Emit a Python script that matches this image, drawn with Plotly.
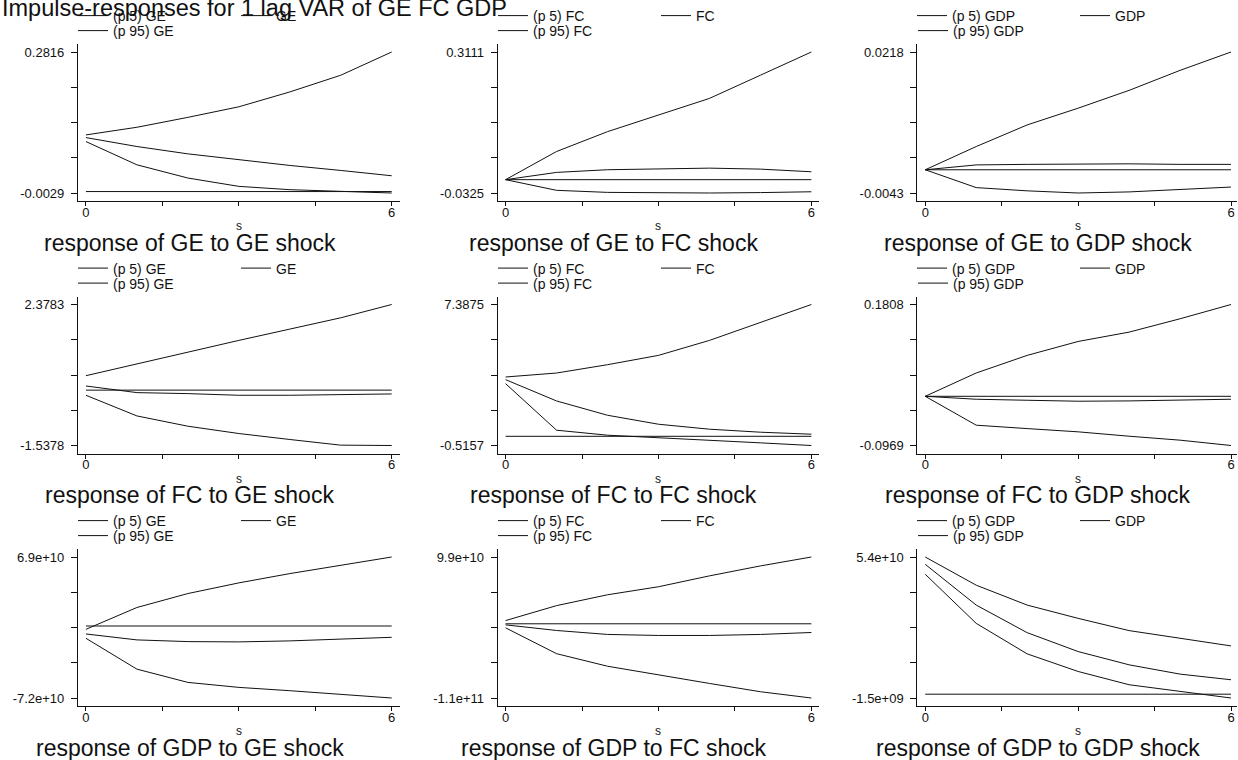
import numpy as np
import plotly.graph_objects as go

# ---------------- data ----------------
steps = [0, 1, 2, 3, 4, 5, 6]
variables = ["GE", "FC", "GDP"]

# response of GE
ge_to_ge_p5 = [0.1009, 0.0540, 0.0273, 0.0105, 0.0038, 0.0005, -0.0029]
ge_to_ge_irf = [0.1089, 0.0909, 0.0761, 0.0641, 0.0527, 0.0426, 0.0319]
ge_to_ge_p95 = [0.1143, 0.1297, 0.1497, 0.1710, 0.2010, 0.2347, 0.2816]

ge_to_fc_p5 = [0.0, -0.0260, -0.0310, -0.0325, -0.0325, -0.0315, -0.0295]
ge_to_fc_irf = [0.0, 0.0177, 0.0242, 0.0266, 0.0281, 0.0257, 0.0192]
ge_to_fc_p95 = [0.0, 0.0686, 0.1170, 0.1575, 0.1980, 0.2545, 0.3111]

ge_to_gdp_p5 = [0.0, -0.0033, -0.0039, -0.0043, -0.0041, -0.0036, -0.0032]
ge_to_gdp_irf = [0.0, 0.0009, 0.0010, 0.0011, 0.0011, 0.0010, 0.0010]
ge_to_gdp_p95 = [0.0, 0.0043, 0.0083, 0.0114, 0.0147, 0.0184, 0.0218]

# response of FC
fc_to_ge_p5 = [-0.143, -0.716, -1.002, -1.205, -1.371, -1.528, -1.5378]
fc_to_ge_irf = [0.115, -0.069, -0.097, -0.143, -0.143, -0.134, -0.106]
fc_to_ge_p95 = [0.401, 0.734, 1.048, 1.381, 1.695, 2.009, 2.3783]

fc_to_fc_p5 = [2.951, 0.342, 0.062, -0.069, -0.218, -0.367, -0.5157]
fc_to_fc_irf = [3.175, 1.982, 1.180, 0.677, 0.398, 0.230, 0.118]
fc_to_fc_p95 = [3.324, 3.547, 4.013, 4.535, 5.374, 6.399, 7.3875]

fc_to_gdp_p5 = [0.0, -0.0569, -0.0636, -0.0700, -0.0786, -0.0864, -0.0969]
fc_to_gdp_irf = [0.0, -0.0058, -0.0078, -0.0097, -0.0091, -0.0071, -0.0058]
fc_to_gdp_p95 = [0.0, 0.0459, 0.0806, 0.1080, 0.1264, 0.1527, 0.1808]

# response of GDP
gdp_to_ge_p5 = [-1.229e10, -4.314e10, -5.64e10, -6.138e10, -6.47e10, -6.868e10, -7.2e10]
gdp_to_ge_irf = [-0.797e10, -1.39e10, -1.56e10, -1.59e10, -1.49e10, -1.33e10, -1.13e10]
gdp_to_ge_p95 = [-0.333e10, 1.85e10, 3.245e10, 4.31e10, 5.24e10, 6.07e10, 6.9e10]

gdp_to_fc_p5 = [-0.60e10, -4.43e10, -6.29e10, -7.61e10, -8.84e10, -10.07e10, -11.0e10]
gdp_to_fc_irf = [-0.157e10, -0.99e10, -1.58e10, -1.73e10, -1.73e10, -1.58e10, -1.29e10]
gdp_to_fc_p95 = [0.479e10, 2.69e10, 4.30e10, 5.49e10, 7.10e10, 8.58e10, 9.9e10]

gdp_to_gdp_p5 = [4.721e10, 2.788e10, 1.587e10, 0.894e10, 0.372e10, 0.111e10, -0.15e10]
gdp_to_gdp_irf = [5.111e10, 3.507e10, 2.422e10, 1.678e10, 1.156e10, 0.790e10, 0.568e10]
gdp_to_gdp_p95 = [5.4e10, 4.29e10, 3.507e10, 2.985e10, 2.503e10, 2.202e10, 1.900e10]

# y-axis end labels (rows = response, cols = impulse)
ymax_labels = [["0.2816", "0.3111", "0.0218"],
               ["2.3783", "7.3875", "0.1808"],
               ["6.9e+10", "9.9e+10", "5.4e+10"]]
ymin_labels = [["-0.0029", "-0.0325", "-0.0043"],
               ["-1.5378", "-0.5157", "-0.0969"],
               ["-7.2e+10", "-1.1e+11", "-1.5e+09"]]

title_text = "Impulse-responses for 1 lag VAR of GE FC GDP"

series = [
    [(ge_to_ge_p5, ge_to_ge_irf, ge_to_ge_p95),
     (ge_to_fc_p5, ge_to_fc_irf, ge_to_fc_p95),
     (ge_to_gdp_p5, ge_to_gdp_irf, ge_to_gdp_p95)],
    [(fc_to_ge_p5, fc_to_ge_irf, fc_to_ge_p95),
     (fc_to_fc_p5, fc_to_fc_irf, fc_to_fc_p95),
     (fc_to_gdp_p5, fc_to_gdp_irf, fc_to_gdp_p95)],
    [(gdp_to_ge_p5, gdp_to_ge_irf, gdp_to_ge_p95),
     (gdp_to_fc_p5, gdp_to_fc_irf, gdp_to_fc_p95),
     (gdp_to_gdp_p5, gdp_to_gdp_irf, gdp_to_gdp_p95)],
]

# ---------------- layout constants ----------------
W, H = 1238, 760
FONT = "Arial, 'Liberation Sans', Helvetica, sans-serif"
INK = "#111111"
COL_STEP = 420
ROW_STEP = 252.5
PLOT_LEFT0 = 78
PLOT_W = 322
PLOT_TOP0 = 44
PLOT_H = 157
PAD = 8
SUB_DX = [112, 116, 121]

fig = go.Figure()
shapes = []
annotations = [dict(text=title_text, x=0.0, y=1 - 8 / H, xref="paper", yref="paper",
                    xanchor="left", yanchor="middle", showarrow=False,
                    font=dict(family=FONT, size=23.5, color=INK))]
layout_axes = {}
legends = {}

for r in range(3):
    for c in range(3):
        k = r * 3 + c
        suf = "" if k == 0 else str(k + 1)
        left = PLOT_LEFT0 + COL_STEP * c
        right = min(left + PLOT_W, W)
        top = PLOT_TOP0 + ROW_STEP * r
        bottom = top + PLOT_H
        ppu = (PLOT_W - 2 * PAD) / (steps[-1] - steps[0])
        xr = [steps[0] - PAD / ppu, steps[-1] + (right - left - PLOT_W + PAD) / ppu]

        ymax = float(ymax_labels[r][c])
        ymin = float(ymin_labels[r][c])
        ypad = PAD / (PLOT_H - 2 * PAD) * (ymax - ymin)

        layout_axes["xaxis" + suf] = dict(
            domain=[left / W, right / W], range=xr, anchor="y" + suf,
            showline=True, linecolor=INK, linewidth=1, mirror=False,
            ticks="outside", ticklen=4, tickcolor=INK, tickwidth=1,
            tickvals=list(np.linspace(steps[0], steps[-1], 5)),
            ticktext=[str(steps[0]), "", "", "", str(steps[-1])],
            ticklabelstandoff=-5,
            showgrid=False, zeroline=False, fixedrange=True,
            tickfont=dict(family=FONT, size=13, color=INK))
        layout_axes["yaxis" + suf] = dict(
            domain=[1 - bottom / H, 1 - top / H], range=[ymin - ypad, ymax + ypad],
            anchor="x" + suf,
            showline=True, linecolor=INK, linewidth=1, mirror=False,
            ticks="outside", ticklen=6, tickcolor=INK, tickwidth=1,
            tickvals=list(np.linspace(ymin, ymax, 5)),
            ticktext=[ymin_labels[r][c], "", "", "", ymax_labels[r][c]],
            ticklabelstandoff=4,
            showgrid=False, zeroline=False, fixedrange=True,
            tickfont=dict(family=FONT, size=13, color=INK))

        imp = variables[c]
        resp = variables[r]
        p5, irf, p95 = series[r][c]
        legA = "legend" if k == 0 else "legend%d" % (2 * k + 1)
        legB = "legend%d" % (2 * k + 2)
        for vals, name, leg in [(p5, "(p 5) " + imp, legA),
                                (irf, imp, legA),
                                (p95, "(p 95) " + imp, legB)]:
            fig.add_trace(go.Scatter(
                x=steps, y=vals, mode="lines", name=name, legend=leg,
                line=dict(color=INK, width=1),
                xaxis="x" + suf, yaxis="y" + suf, hoverinfo="x+y"))

        shapes.append(dict(type="line", xref="x" + suf, yref="y" + suf,
                           x0=steps[0], x1=steps[-1], y0=0, y1=0,
                           line=dict(color=INK, width=1)))

        for leg, ypx in [(legA, top + PAD - 36), (legB, top + PAD - 21)]:
            legends[leg] = dict(
                x=(left - 5) / W, xanchor="left", y=1 - ypx / H, yanchor="middle",
                orientation="h", entrywidth=118, entrywidthmode="pixels",
                bgcolor="rgba(0,0,0,0)", borderwidth=0, tracegroupgap=0,
                font=dict(family=FONT, size=14, color=INK))

        annotations.append(dict(
            text="s", x=(left + PLOT_W / 2) / W, y=1 - (bottom + 25) / H,
            xref="paper", yref="paper", xanchor="center", yanchor="middle",
            showarrow=False, font=dict(family=FONT, size=12, color=INK)))
        annotations.append(dict(
            text="response of %s to %s shock" % (resp, imp),
            x=(left + SUB_DX[c]) / W, y=1 - (bottom + 42) / H,
            xref="paper", yref="paper", xanchor="center", yanchor="middle",
            showarrow=False, font=dict(family=FONT, size=23, color=INK)))

fig.update_layout(
    width=W, height=H, margin=dict(l=0, r=0, t=0, b=0),
    paper_bgcolor="white", plot_bgcolor="white",
    showlegend=True, shapes=shapes, annotations=annotations,
    font=dict(family=FONT, color=INK),
    **layout_axes, **legends)

fig.write_html("out.html",
               config={"displayModeBar": False},
               post_script="document.body.style.margin='0px';"
                           "document.body.style.overflow='hidden';")
